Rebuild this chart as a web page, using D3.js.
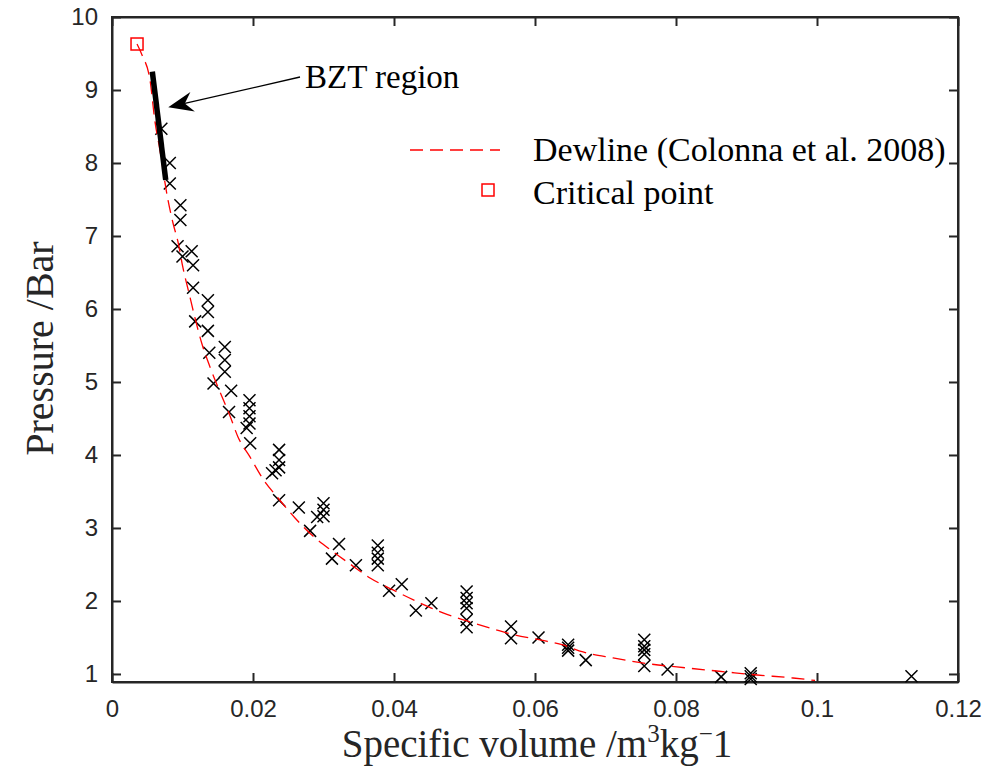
<!DOCTYPE html>
<html>
<head>
<meta charset="utf-8">
<script src="https://cdn.jsdelivr.net/npm/d3@7"></script>
<style>
  html, body { margin: 0; padding: 0; background: #fff; }
  svg { display: block; }
</style>
</head>
<body>
<svg id="chart" width="1005" height="767"></svg>
<script>
// Measured saturated-vapour states: specific volume (m^3/kg) and pressure (bar)
const specVol = [
  0.0070, 0.0082, 0.0082, 0.0097, 0.0097, 0.0093, 0.0113, 0.0100, 0.0115, 0.0115,
  0.0136, 0.0136, 0.0118, 0.0136, 0.0138, 0.0160, 0.0160, 0.0160, 0.0144, 0.0169,
  0.0166, 0.0195, 0.0195, 0.0195, 0.0195, 0.0191, 0.0196, 0.0237, 0.0237, 0.0237,
  0.0227, 0.0232, 0.0237, 0.0265, 0.0300, 0.0300, 0.0300, 0.0291, 0.0281, 0.0322,
  0.0312, 0.0346, 0.0377, 0.0377, 0.0377, 0.0377, 0.0393, 0.0411, 0.0431, 0.0453,
  0.0503, 0.0503, 0.0503, 0.0503, 0.0503, 0.0503, 0.0566, 0.0566, 0.0605, 0.0647,
  0.0647, 0.0647, 0.0672, 0.0755, 0.0755, 0.0755, 0.0755, 0.0755, 0.0788, 0.0864,
  0.0906, 0.0906, 0.0906, 0.1134
];
const pressure = [
  8.47, 8.00, 7.72, 7.42, 7.22, 6.86, 6.79, 6.72, 6.60, 6.29,
  6.12, 5.96, 5.83, 5.70, 5.40, 5.48, 5.30, 5.14, 4.98, 4.88,
  4.59, 4.75, 4.64, 4.53, 4.43, 4.37, 4.16, 4.07, 3.93, 3.83,
  3.75, 3.79, 3.38, 3.28, 3.34, 3.25, 3.16, 3.15, 2.96, 2.78,
  2.58, 2.49, 2.76, 2.66, 2.58, 2.49, 2.14, 2.23, 1.87, 1.97,
  2.13, 2.04, 1.97, 1.90, 1.74, 1.64, 1.65, 1.49, 1.50, 1.40,
  1.36, 1.32, 1.19, 1.47, 1.38, 1.33, 1.27, 1.11, 1.06, 0.96,
  1.01, 0.97, 0.93, 0.97
];

// Dew line (Colonna et al. 2008)
const dewVol = [
  0.00355, 0.00426, 0.00539, 0.00610, 0.00667, 0.00794, 0.00865, 0.00936, 0.01007, 0.01092,
  0.01177, 0.01272, 0.01390, 0.01532, 0.01674, 0.01787, 0.01957, 0.02142, 0.02355, 0.02596,
  0.02851, 0.03121, 0.03376, 0.03660, 0.03986, 0.04369, 0.04695, 0.05035, 0.05362, 0.05716,
  0.06071, 0.06397, 0.06681, 0.07106, 0.07631, 0.08156, 0.08720, 0.09149, 0.09660, 0.09972
];
const dewPres = [
  9.630, 9.479, 9.137, 8.562, 8.247, 7.493, 7.178, 6.918, 6.562, 6.219,
  5.877, 5.534, 5.205, 4.863, 4.534, 4.247, 3.973, 3.671, 3.411, 3.137,
  2.890, 2.685, 2.507, 2.315, 2.151, 1.973, 1.836, 1.726, 1.630, 1.534,
  1.466, 1.397, 1.301, 1.219, 1.137, 1.082, 1.027, 0.986, 0.945, 0.911
];

// Critical point
const critVol = [0.00355];
const critPres = [9.63];

// BZT region segment and its arrow annotation (data units)
const bztVol = [0.00572, 0.00762];
const bztPres = [9.251, 7.767];
const arrowTail = [0.02667, 9.178];
const arrowTip = [0.00798, 8.763];

// Axis ticks
const xTicks = [0, 0.02, 0.04, 0.06, 0.08, 0.1, 0.12];
const yTicks = [1, 2, 3, 4, 5, 6, 7, 8, 9, 10];

const legendLabels = ["Dewline (Colonna et al. 2008)", "Critical point"];

// ---------------------------------------------------------------
const svg = d3.select("#chart");
const W = 1005, H = 767;
const plot = { left: 112, right: 958, top: 17, bottom: 682 };

svg.append("rect").attr("width", W).attr("height", H).attr("fill", "#fff");

const x = d3.scaleLinear().domain([0, 0.12]).range([plot.left, plot.right]);
const y = d3.scaleLinear().domain([0.89, 10]).range([plot.bottom, plot.top]);

const axisColor = "#262626";
const tickFont = "'Liberation Sans', Arial, Helvetica, sans-serif";
const serif = "'Liberation Serif', 'Times New Roman', serif";
const fmt = d3.format("~g");

function styleAxis(g) {
  g.attr("font-family", tickFont).attr("font-size", 24);
  g.selectAll(".domain").attr("stroke", axisColor).attr("stroke-width", 2);
  g.selectAll(".tick line").attr("stroke", axisColor).attr("stroke-width", 2);
  g.selectAll(".tick text").attr("fill", axisColor);
}

svg.append("g")
  .attr("transform", `translate(0,${plot.bottom})`)
  .call(d3.axisBottom(x).tickValues(xTicks).tickFormat(fmt).tickSize(-9).tickSizeOuter(0).tickPadding(18))
  .call(styleAxis);

svg.append("g")
  .attr("transform", `translate(0,${plot.top})`)
  .call(d3.axisTop(x).tickValues(xTicks).tickFormat("").tickSize(-9).tickSizeOuter(0))
  .call(styleAxis);

svg.append("g")
  .attr("transform", `translate(${plot.left},0)`)
  .call(d3.axisLeft(y).tickValues(yTicks).tickFormat(fmt).tickSize(-9).tickSizeOuter(0).tickPadding(14))
  .call(styleAxis);

svg.append("g")
  .attr("transform", `translate(${plot.right},0)`)
  .call(d3.axisRight(y).tickValues(yTicks).tickFormat("").tickSize(-9).tickSizeOuter(0))
  .call(styleAxis);

// Full frame box
svg.append("rect")
  .attr("x", plot.left).attr("y", plot.top)
  .attr("width", plot.right - plot.left).attr("height", plot.bottom - plot.top)
  .attr("fill", "none").attr("stroke", axisColor).attr("stroke-width", 2);

// Axis titles
const xl = svg.append("text")
  .attr("x", (plot.left + plot.right) / 2 + 2).attr("y", 757)
  .attr("text-anchor", "middle")
  .attr("font-family", serif).attr("font-size", 39).attr("fill", "#262626");
xl.append("tspan").text("Specific volume /m");
xl.append("tspan").attr("font-size", 25).attr("dy", -15).text("3");
xl.append("tspan").attr("dy", 15).text("kg");
xl.append("tspan").attr("font-size", 25).attr("dy", -15).text("\u2212");
xl.append("tspan").attr("dy", 15).text("1");

svg.append("text")
  .attr("transform", `translate(53,${(plot.top + plot.bottom) / 2 - 1}) rotate(-90)`)
  .attr("text-anchor", "middle")
  .attr("font-family", serif).attr("font-size", 40).attr("fill", "#262626")
  .text("Pressure /Bar");

// Data markers (x)
const pts = specVol.map((v, i) => ({ v, p: pressure[i] }));
const xs = 6;
svg.append("g").selectAll("path")
  .data(pts).join("path")
  .attr("transform", d => `translate(${x(d.v)},${y(d.p)})`)
  .attr("d", `M${-xs},${-xs}L${xs},${xs}M${-xs},${xs}L${xs},${-xs}`)
  .attr("stroke", "#000").attr("stroke-width", 1.5).attr("fill", "none");

// Dew line
const dew = dewVol.map((v, i) => [v, dewPres[i]]);
svg.append("path")
  .datum(dew)
  .attr("d", d3.line().x(d => x(d[0])).y(d => y(d[1])).curve(d3.curveMonotoneX))
  .attr("fill", "none").attr("stroke", "#ff0000").attr("stroke-width", 1.3)
  .attr("stroke-dasharray", "13,7");

// Critical point
svg.append("g").selectAll("rect")
  .data(critVol.map((v, i) => [v, critPres[i]])).join("rect")
  .attr("x", d => x(d[0]) - 6).attr("y", d => y(d[1]) - 6)
  .attr("width", 12).attr("height", 12)
  .attr("fill", "none").attr("stroke", "#ff0000").attr("stroke-width", 1.5);

// BZT region segment
svg.append("line")
  .attr("x1", x(bztVol[0])).attr("y1", y(bztPres[0]))
  .attr("x2", x(bztVol[1])).attr("y2", y(bztPres[1]))
  .attr("stroke", "#000").attr("stroke-width", 5.5);

// Arrow
const tx = x(arrowTail[0]), ty = y(arrowTail[1]);
const hx = x(arrowTip[0]), hy = y(arrowTip[1]);
const len = Math.hypot(hx - tx, hy - ty);
const ux = (hx - tx) / len, uy = (hy - ty) / len;
const px = -uy, py = ux;
const headL = 25, headW = 10, notch = 17;
svg.append("line")
  .attr("x1", tx).attr("y1", ty)
  .attr("x2", hx - ux * notch).attr("y2", hy - uy * notch)
  .attr("stroke", "#000").attr("stroke-width", 1.3);
const head = [
  [hx, hy],
  [hx - ux * headL + px * headW, hy - uy * headL + py * headW],
  [hx - ux * notch, hy - uy * notch],
  [hx - ux * headL - px * headW, hy - uy * headL - py * headW]
];
svg.append("path")
  .attr("d", d3.line()(head) + "Z")
  .attr("fill", "#000");

svg.append("text")
  .attr("x", tx + 5).attr("y", ty + 11)
  .attr("font-family", serif).attr("font-size", 33).attr("fill", "#000")
  .text("BZT region");

// Legend
const lg = svg.append("g");
lg.append("line")
  .attr("x1", 410).attr("x2", 500).attr("y1", 150).attr("y2", 150)
  .attr("stroke", "#ff0000").attr("stroke-width", 1.3).attr("stroke-dasharray", "13,7");
lg.append("rect")
  .attr("x", 482).attr("y", 184).attr("width", 12).attr("height", 12)
  .attr("fill", "none").attr("stroke", "#ff0000").attr("stroke-width", 1.5);
lg.selectAll("text")
  .data(legendLabels).join("text")
  .attr("x", 533).attr("y", (d, i) => 161 + i * 43)
  .attr("font-family", serif).attr("font-size", 34).attr("fill", "#000")
  .text(d => d);
</script>
</body>
</html>
